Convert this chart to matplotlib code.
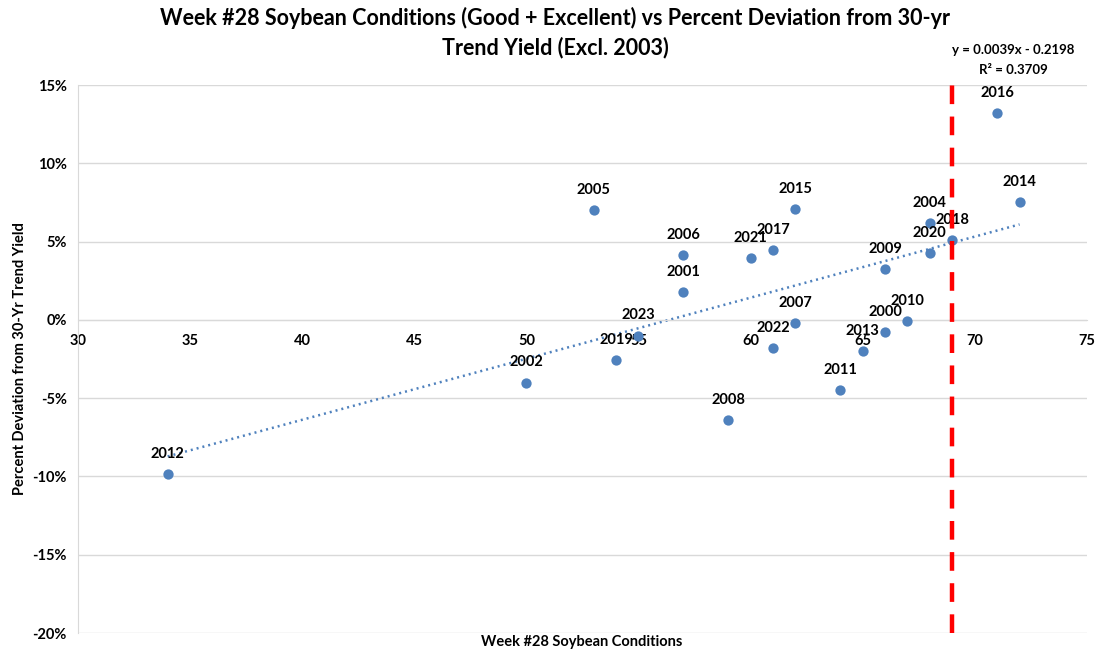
import matplotlib.pyplot as plt
import numpy as np
from matplotlib.ticker import FuncFormatter

plt.rcParams['font.family'] = ['Lato', 'DejaVu Sans']
plt.rcParams['font.weight'] = 'bold'

# week #28 good+excellent rating, % deviation from 30-yr trend yield
years = ['2012', '2002', '2019', '2023', '2005', '2006', '2001', '2008', '2021',
         '2017', '2022', '2015', '2007', '2011', '2013', '2000', '2009', '2010',
         '2020', '2004', '2018', '2016', '2014']
cond = [34, 50, 54, 55, 53, 57, 57, 59, 60, 61, 61, 62, 62, 64, 65, 66, 66, 67,
        68, 68, 69, 71, 72]
dev = [-0.0985, -0.040, -0.0255, -0.010, 0.070, 0.0415, 0.018, -0.064, 0.0396,
       0.0447, -0.018, 0.071, -0.002, -0.045, -0.020, -0.008, 0.0326, -0.001,
       0.0428, 0.062, 0.051, 0.132, 0.075]

slope, intercept, r2 = 0.0039, -0.2198, 0.3709
cutoff = 69

blue = '#4F81BD'

fig = plt.figure(figsize=(11, 6.57), dpi=100)
ax = fig.add_axes([0.0709, 0.0365, 0.9171, 0.834])

ax.set_xlim(30, 75)
ax.set_ylim(-0.20, 0.15)
ax.set_xticks(np.arange(30, 76, 5))
ax.set_yticks(np.round(np.arange(-0.20, 0.151, 0.05), 2))
ax.yaxis.set_major_formatter(FuncFormatter(lambda v, p: '%d%%' % round(v * 100)))
ax.grid(axis='y', color='#d9d9d9', lw=1)
ax.set_axisbelow(True)

for s in ['top', 'right']:
    ax.spines[s].set_visible(False)
ax.spines['left'].set_color('#d9d9d9')
ax.spines['bottom'].set_position(('data', 0))
ax.spines['bottom'].set_color('#d9d9d9')
ax.tick_params(length=0, labelsize=10.5)
ax.tick_params(axis='x', pad=10)
ax.tick_params(axis='y', pad=8)

# trendline from excel equation
tx = np.array([min(cond), max(cond)])
ax.plot(tx, slope * tx + intercept, color=blue, lw=1.8, ls=(0, (0.8, 1.6)), zorder=2)

ax.axvline(cutoff, color='red', lw=3.2, dashes=(4.2, 2.8), zorder=4)

ax.scatter(cond, dev, s=55, color=blue, zorder=3, linewidths=0)
for yr, x, y in zip(years, cond, dev):
    ax.annotate(yr, (x, y), xytext=(0, 9.5), textcoords='offset points',
                ha='center', va='bottom', fontsize=10.5, fontweight='bold')

ax.set_ylabel('Percent Deviation from 30-Yr Trend Yield', fontsize=10.5, fontweight='bold', labelpad=4)
fig.text(0.529, 0.012, 'Week #28 Soybean Conditions', ha='center', va='bottom',
         fontsize=10.5, fontweight='bold')

fig.text(0.505, 0.972, 'Week #28 Soybean Conditions (Good + Excellent) vs Percent Deviation from 30-yr',
         ha='center', va='center', fontsize=15.5, fontweight='bold')
fig.text(0.505, 0.928, 'Trend Yield (Excl. 2003)', ha='center', va='center',
         fontsize=15.5, fontweight='bold')

fig.text(0.921, 0.924, 'y = %.4fx - %.4f' % (slope, -intercept), ha='center', va='center',
         fontsize=9.5, fontweight='bold')
fig.text(0.921, 0.893, 'R² = %.4f' % r2, ha='center', va='center',
         fontsize=9.5, fontweight='bold')

fig.savefig('out.png', dpi=100)
